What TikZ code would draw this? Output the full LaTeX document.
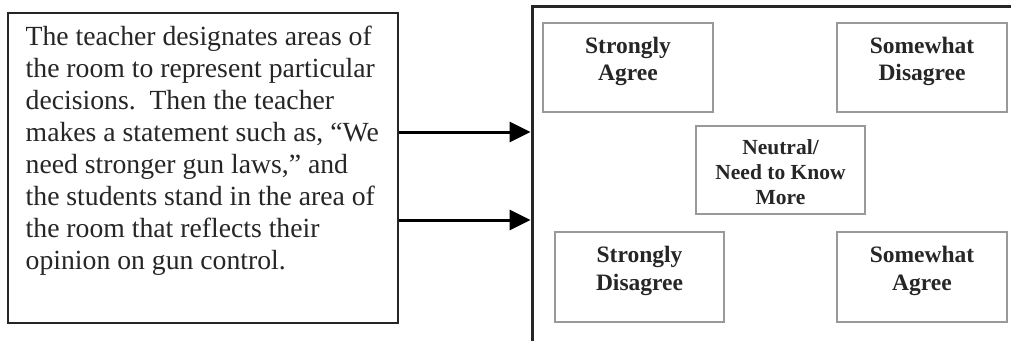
\documentclass[tikz,border=0pt]{standalone}
\usepackage{fontspec}
\setmainfont{Liberation Serif}
\usetikzlibrary{arrows.meta}
\begin{document}
\begin{tikzpicture}[x=1pt,y=-1pt,
  frame/.style={draw=black!85, line width=2.6pt, rectangle, inner sep=0pt},
  choice/.style={draw=black!40, line width=1.3pt, rectangle, inner sep=0pt},
  lbl/.style={align=center, inner sep=0pt, anchor=base, text=black!85, font=\bfseries\fontsize{23.5}{27}\selectfont},
  conn/.style={draw=black, line width=3pt, -{Triangle[length=21pt,width=20pt]}}]
\clip (0,0) rectangle (1011,340);
\fill[white] (0,0) rectangle (1011,340);
% description box
\node[frame, minimum width=390pt, minimum height=310pt] (desc) at (203,168) {};
\node[inner sep=0pt, anchor=base west, align=left, text=black!85,
      font=\fontsize{27.7}{32}\selectfont] (desctext) at (25.5,269)
  {The teacher designates areas of\\
   the room to represent particular\\
   decisions.\ \ Then the teacher\\
   makes a statement such as, “We\\
   need stronger gun laws,” and\\
   the students stand in the area of\\
   the room that reflects their\\
   opinion on gun control.};
% room box
\node[frame, line width=3pt, minimum width=498pt, minimum height=354pt] (room) at (781,183) {};
% connectors
\coordinate (a1) at (0,132);
\coordinate (a2) at (0,220);
\draw[conn] (desc.east |- a1) -- (room.west |- a1);
\draw[conn] (desc.east |- a2) -- (room.west |- a2);
% areas
\node[choice, minimum width=170pt, minimum height=89pt] (sa) at (628,67.5) {};
\node[choice, minimum width=170pt, minimum height=89pt] (sd) at (922,67.5) {};
\node[choice, minimum width=169pt, minimum height=88pt] (nt) at (780.5,170) {};
\node[choice, minimum width=169pt, minimum height=90pt] (sdis) at (639.5,277) {};
\node[choice, minimum width=170pt, minimum height=90pt] (swa) at (922,277) {};
\node[lbl] (satext) at (628,80) {Strongly\\Agree};
\node[lbl] (sdtext) at (922,80) {Somewhat\\Disagree};
\node[lbl, font=\bfseries\fontsize{21.5}{25}\selectfont] (nttext) at (780.5,204) {Neutral/\\Need to Know\\More};
\node[lbl, font=\bfseries\fontsize{23.5}{28}\selectfont] (sdistext) at (639.5,290) {Strongly\\Disagree};
\node[lbl, font=\bfseries\fontsize{23.5}{28}\selectfont] (swatext) at (922,290) {Somewhat\\Agree};
\end{tikzpicture}
\end{document}
